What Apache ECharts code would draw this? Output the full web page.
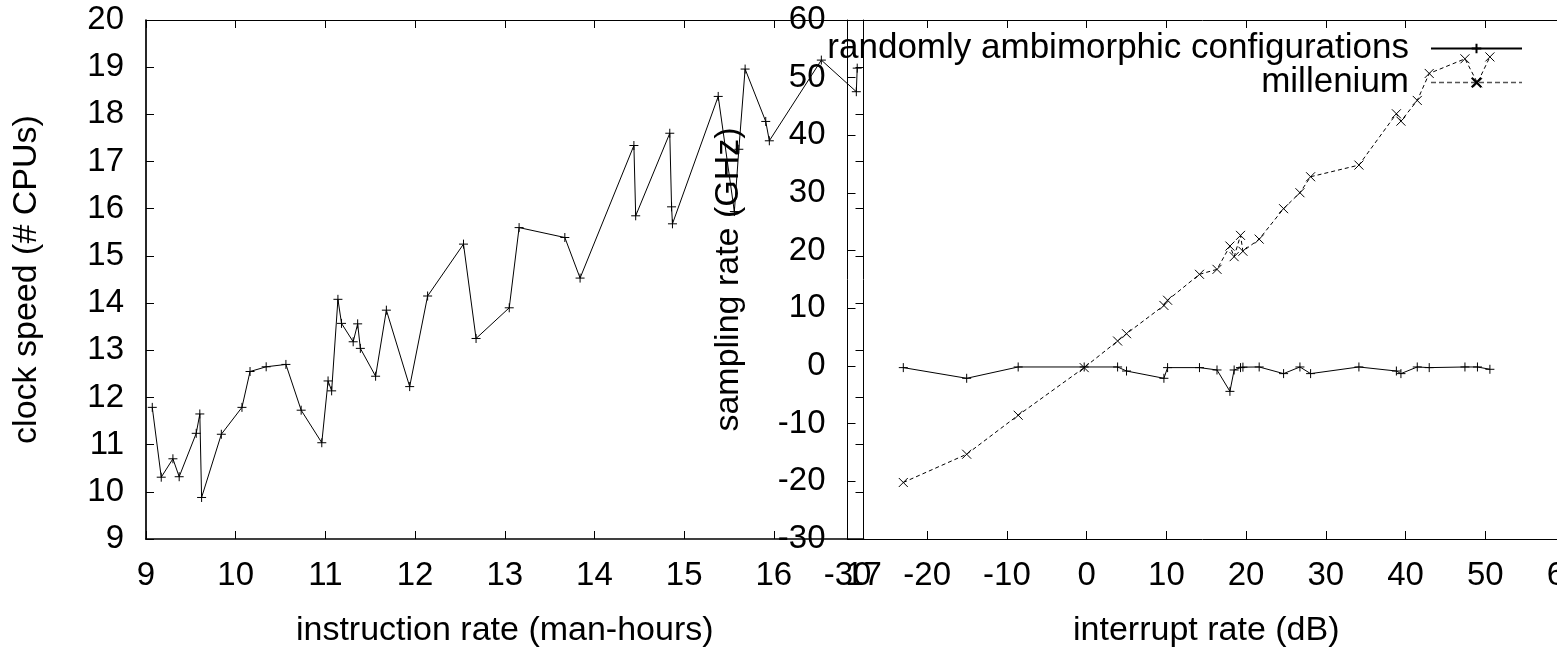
<!DOCTYPE html>
<html>
<head>
<meta charset="utf-8">
<script src="https://cdn.jsdelivr.net/npm/echarts@6/dist/echarts.min.js"></script>
<style>
  html, body { margin: 0; background: #fff; }
  #chart { width: 1557px; height: 648px; }
</style>
</head>
<body>
<div id="chart"></div>
<script>
// left panel: instruction rate vs clock speed
const instructionRate = [9.07, 9.17, 9.30, 9.37, 9.56, 9.60, 9.62, 9.84, 10.07, 10.16, 10.34, 10.56, 10.73, 10.96,
  11.03, 11.07, 11.14, 11.18, 11.31, 11.36, 11.39, 11.56, 11.68, 11.94, 12.14, 12.54, 12.68, 13.05, 13.16,
  13.67, 13.84, 14.44, 14.46, 14.84, 14.86, 14.87, 15.38, 15.56, 15.61, 15.68, 15.91, 15.95, 16.53, 16.92, 16.93];
const clockSpeed = [11.79, 10.31, 10.70, 10.32, 11.24, 11.65, 9.88, 11.22, 11.79, 12.55, 12.65, 12.70, 11.73, 11.04,
  12.35, 12.14, 14.08, 13.57, 13.18, 13.56, 13.04, 12.45, 13.85, 12.23, 14.15, 15.25, 13.25, 13.90, 15.60,
  15.39, 14.53, 17.34, 15.85, 17.60, 16.04, 15.68, 18.38, 15.94, 17.26, 18.96, 17.85, 17.44, 19.15, 18.48, 18.98];

// right panel: interrupt rate vs sampling rate
const interruptRate = [-23.0, -15.05, -8.59, -0.31, 3.88, 5.0, 9.69, 10.15, 14.15, 16.35, 17.97, 18.5, 19.3, 19.6,
  21.64, 24.7, 26.75, 28.09, 34.15, 38.85, 39.42, 41.47, 42.97, 47.45, 49.02, 50.58];
const configurations = [-0.28, -2.13, -0.17, -0.17, -0.17, -0.87, -2.13, -0.28, -0.28, -0.69, -4.4, -0.69, -0.28, -0.2,
  -0.17, -1.32, -0.17, -1.32, -0.17, -0.87, -1.32, -0.17, -0.28, -0.17, -0.17, -0.57];
const millenium = [-20.2, -15.3, -8.54, -0.28, 4.33, 5.6, 10.5, 11.4, 15.9, 16.76, 20.8, 18.96, 22.65, 19.9,
  22.0, 27.28, 30.05, 32.82, 34.84, 43.74, 42.46, 46.05, 50.73, 53.27, 49.1, 53.6];

const seriesNames = ['randomly ambimorphic configurations', 'millenium'];

const FONT = 'Liberation Sans';
const PLUS = 'path://M0,5L10,5M5,0L5,10';
const CROSS = 'path://M0,0L10,10M10,0L0,10';

function zip(xs, ys) {
  return xs.map((x, i) => [x, ys[i]]);
}

function axis(gridIndex, position, min, max, interval, width, labels, name) {
  const vertical = position === 'left' || position === 'right';
  return {
    type: 'value',
    gridIndex: gridIndex,
    position: position,
    min: min,
    max: max,
    interval: interval,
    name: name || '',
    nameLocation: 'middle',
    nameGap: vertical ? 102 : 75,
    nameTextStyle: { fontFamily: FONT, fontSize: 34, color: '#000' },
    splitLine: { show: false },
    axisLine: { show: true, onZero: false, lineStyle: { color: '#000', width: width } },
    axisTick: { show: true, inside: true, length: 8, lineStyle: { color: '#000', width: 1 } },
    axisLabel: {
      show: labels,
      margin: vertical ? 22 : 20,
      fontFamily: FONT,
      fontSize: 33,
      color: '#000'
    }
  };
}

const chart = echarts.init(document.getElementById('chart'));

chart.setOption({
  animation: false,
  backgroundColor: '#fff',
  grid: [
    { left: 146, top: 20, width: 717.5, height: 519, outerBoundsMode: 'none' },
    { left: 847.5, top: 20, width: 717.5, height: 519, outerBoundsMode: 'none' }
  ],
  xAxis: [
    axis(0, 'bottom', 9, 17, 1, 1.7, true, 'instruction rate (man-hours)'),
    axis(0, 'top', 9, 17, 1, 1.2, false),
    axis(1, 'bottom', -30, 60, 10, 1, true, 'interrupt rate (dB)'),
    axis(1, 'top', -30, 60, 10, 1, false)
  ],
  yAxis: [
    axis(0, 'left', 9, 20, 1, 1.7, true, 'clock speed (# CPUs)'),
    axis(0, 'right', 9, 20, 1, 1, false),
    axis(1, 'left', -30, 60, 10, 1, true, 'sampling rate (GHz)'),
    axis(1, 'right', -30, 60, 10, 1, false)
  ],
  legend: {
    orient: 'vertical',
    right: 34,
    top: 31,
    padding: 0,
    align: 'right',
    itemWidth: 91,
    itemHeight: 12,
    itemGap: -1,
    selectedMode: false,
    textStyle: { fontFamily: FONT, fontSize: 35, lineHeight: 33, color: '#000', padding: [0, 17, 0, 0] },
    data: [
      { name: seriesNames[0] },
      { name: seriesNames[1], lineStyle: { color: '#555', width: 1.3, type: [5, 3] } }
    ]
  },
  series: [
    {
      type: 'line',
      xAxisIndex: 0,
      yAxisIndex: 0,
      data: zip(instructionRate, clockSpeed),
      symbol: PLUS,
      symbolSize: 9,
      itemStyle: { color: '#000', borderColor: '#000', borderWidth: 1 },
      lineStyle: { color: '#000', width: 1 }
    },
    {
      name: seriesNames[0],
      type: 'line',
      xAxisIndex: 2,
      yAxisIndex: 2,
      data: zip(interruptRate, configurations),
      symbol: PLUS,
      symbolSize: 9,
      itemStyle: { color: '#000', borderColor: '#000', borderWidth: 1 },
      lineStyle: { color: '#000', width: 1 }
    },
    {
      name: seriesNames[1],
      type: 'line',
      xAxisIndex: 2,
      yAxisIndex: 2,
      data: zip(interruptRate, millenium),
      symbol: CROSS,
      symbolSize: 9,
      itemStyle: { color: '#000', borderColor: '#000', borderWidth: 1 },
      lineStyle: { color: '#000', width: 1, type: [4, 3] }
    }
  ]
});
</script>
</body>
</html>
